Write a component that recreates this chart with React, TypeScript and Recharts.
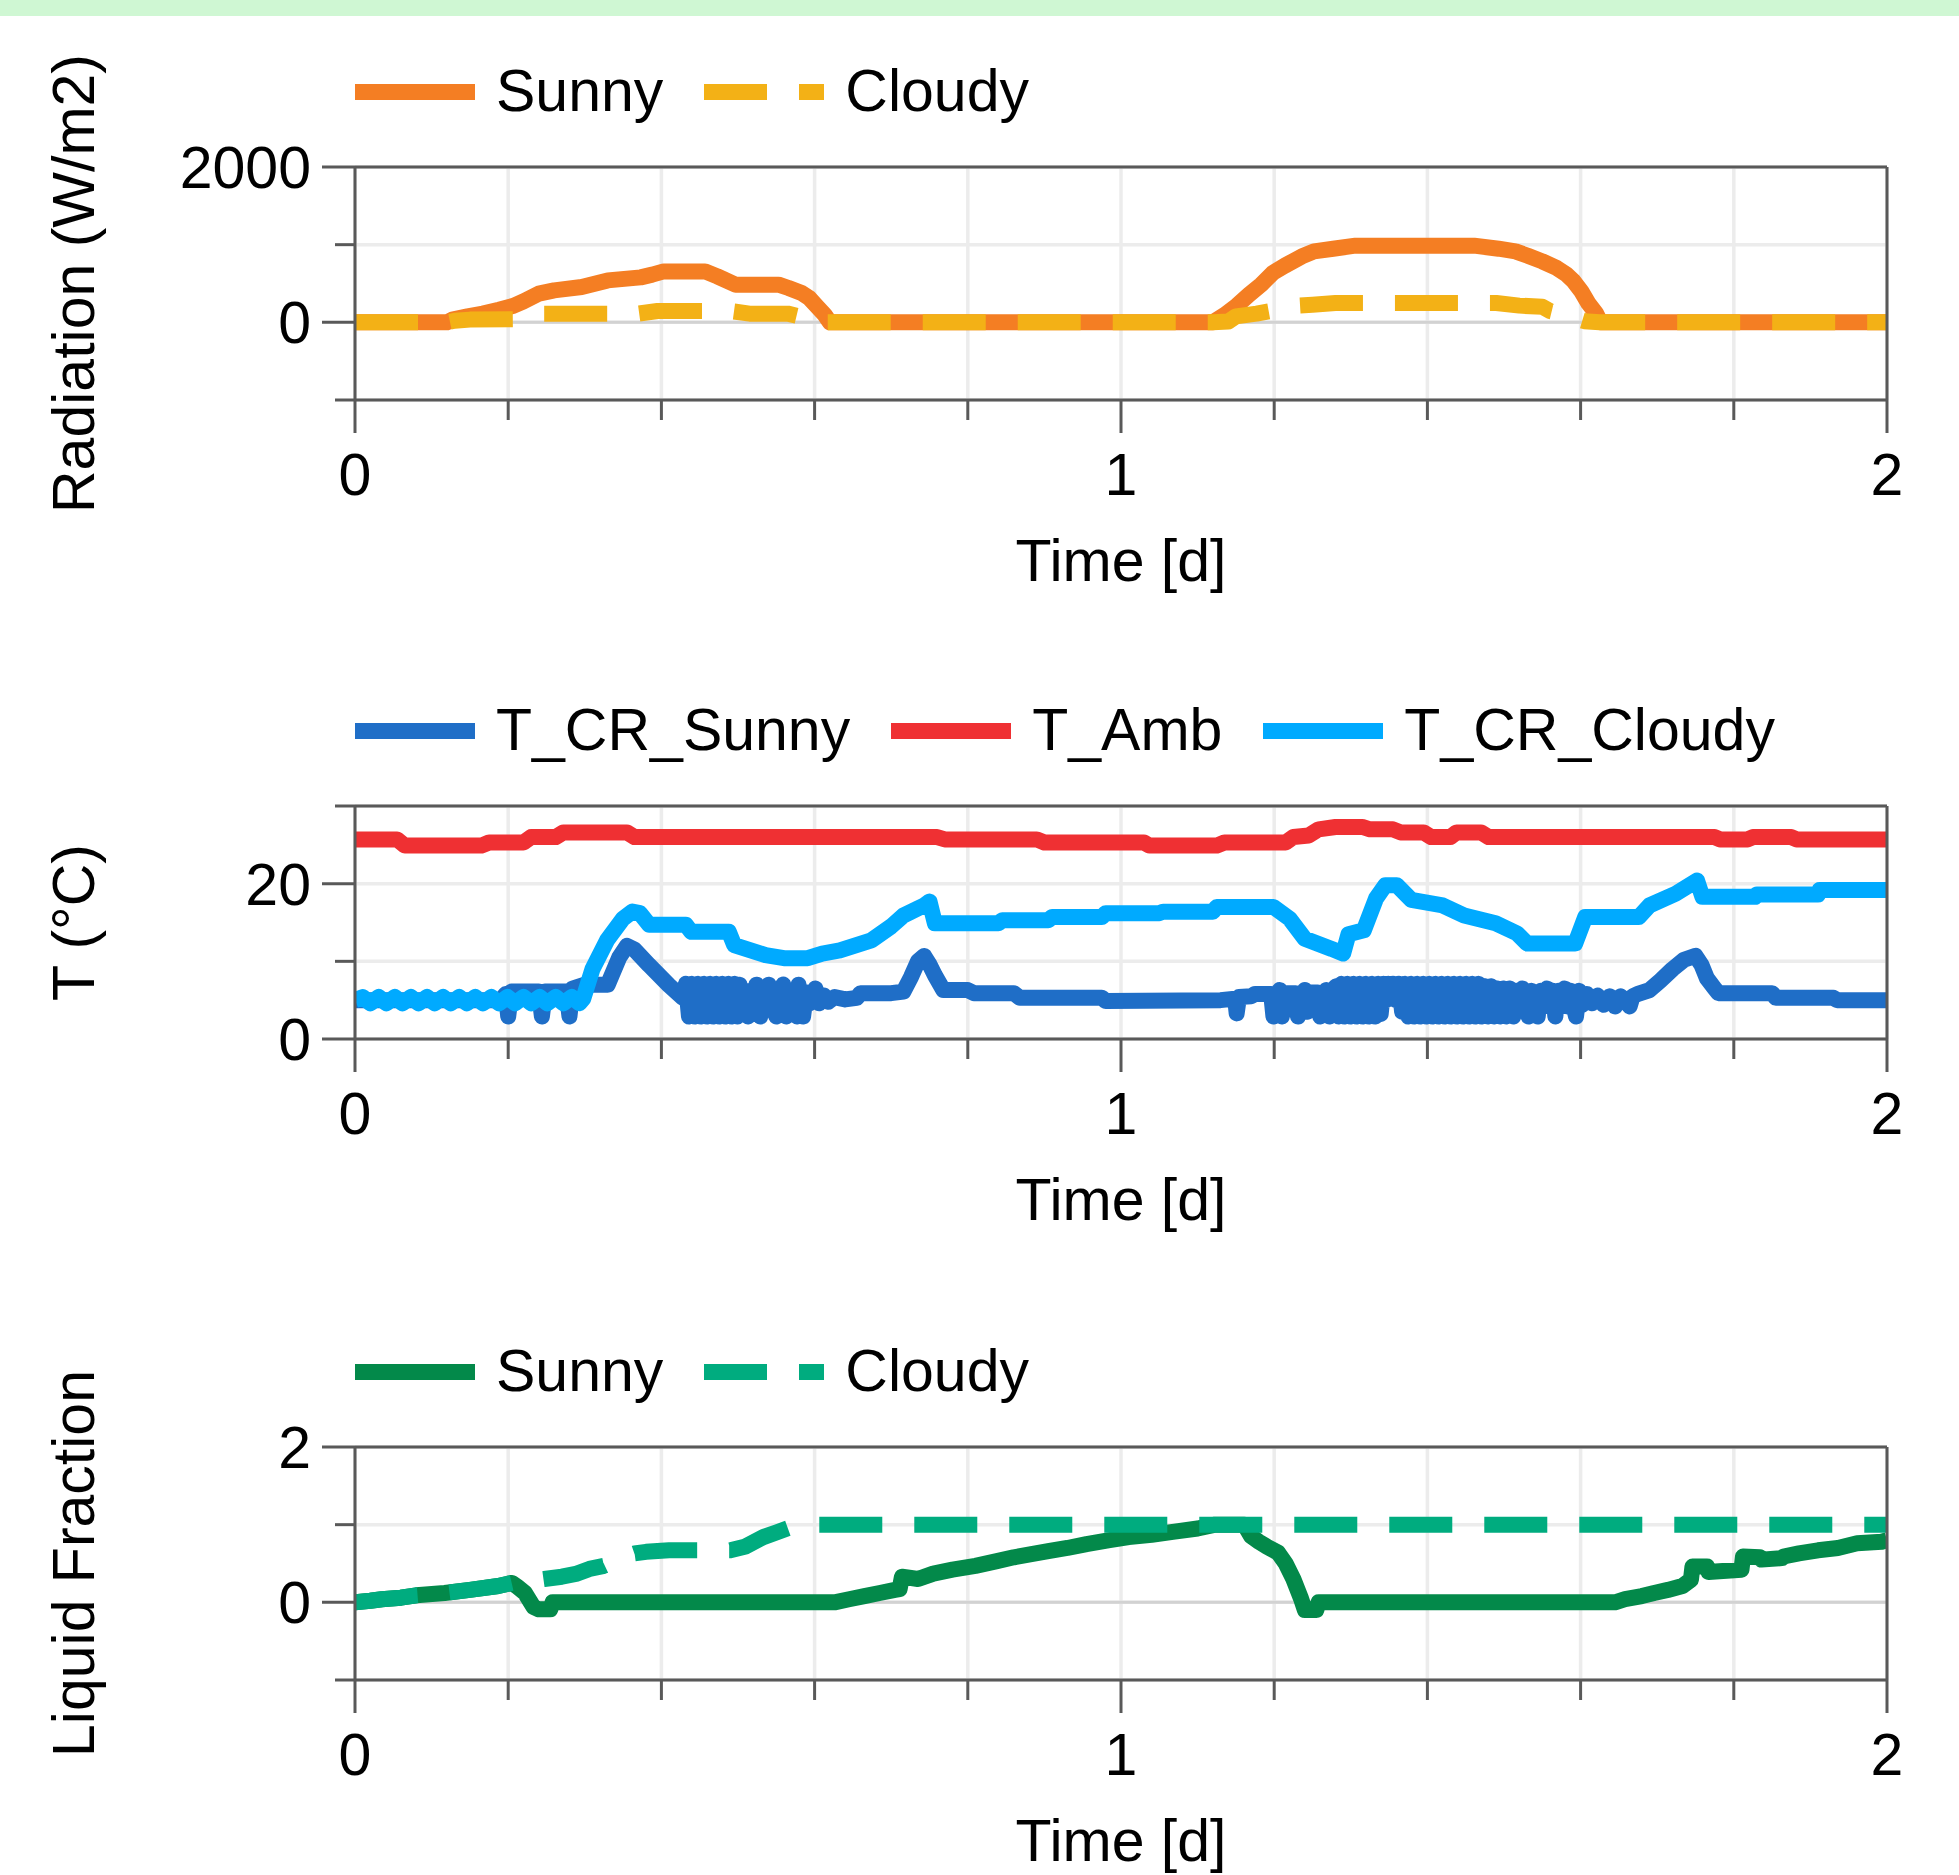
import React from 'react';
import { LineChart, Line, XAxis, YAxis, CartesianGrid, ReferenceLine } from 'recharts';

type Pt = [number, number];

// time axis [d]
const xTicks = [0, 0.2, 0.4, 0.6, 0.8, 1, 1.2, 1.4, 1.6, 1.8, 2];

// radiation (W/m2)
const radSunny: Pt[] = [
    [0, 0], [0.12, 0], [0.127, 35], [0.147, 77], [0.167, 112], [0.188, 163], [0.207, 214], [0.22, 270],
    [0.24, 369], [0.26, 412], [0.296, 455], [0.33, 540], [0.373, 579], [0.388, 614], [0.403, 656],
    [0.457, 656], [0.473, 592], [0.497, 485], [0.553, 485], [0.566, 442], [0.583, 377], [0.593, 313],
    [0.603, 206], [0.613, 99], [0.62, 0], [1.12, 0], [1.136, 99], [1.151, 214], [1.167, 356],
    [1.183, 485], [1.198, 635], [1.214, 730], [1.236, 849], [1.252, 914], [1.277, 948], [1.306, 987],
    [1.461, 987], [1.493, 948], [1.515, 914], [1.531, 858], [1.55, 785], [1.569, 699], [1.582, 614],
    [1.591, 528], [1.601, 399], [1.61, 248], [1.62, 120], [1.626, 0], [2, 0],
];
const radCloudy: Pt[] = [
    [0, 0], [0.12, 0], [0.13, 20], [0.15, 35], [0.21, 40], [0.235, 100], [0.245, 112], [0.37, 112],
    [0.395, 146], [0.49, 146], [0.515, 112], [0.565, 112], [0.58, 77], [0.598, 30], [0.61, 0],
    [1.12, 0], [1.14, 10], [1.15, 77], [1.177, 112], [1.196, 146], [1.218, 206], [1.25, 225],
    [1.28, 248], [1.49, 248], [1.52, 215], [1.55, 200], [1.56, 146], [1.575, 110], [1.59, 60],
    [1.605, 15], [1.625, 0], [2, 0],
];

// temperatures (°C)
const tCrSunny: Pt[] = [
    [0, 5.0], [0.19, 5.0], [0.197, 5.8], [0.2, 2.9], [0.204, 6.1], [0.24, 6.1], [0.244, 2.9], [0.248, 6.1],
    [0.276, 6.1], [0.28, 2.9], [0.284, 6.5], [0.3, 7.0], [0.33, 7.0], [0.345, 10.5], [0.355, 12.0],
    [0.365, 11.5], [0.384, 9.5], [0.41, 6.9], [0.428, 5.3],
    [0.432, 7.1], [0.436, 2.9], [0.44, 7.1], [0.444, 2.9], [0.448, 7.1], [0.452, 2.9], [0.456, 7.1],
    [0.46, 2.9], [0.464, 7.1], [0.468, 2.9], [0.472, 7.1], [0.476, 2.9], [0.48, 7.1], [0.484, 2.9],
    [0.488, 7.1], [0.492, 2.9], [0.496, 7.1], [0.499, 2.9],
    [0.502, 7.0], [0.506, 4.2], [0.51, 6.2], [0.513, 2.9], [0.517, 6.2], [0.521, 4.2], [0.524, 7.0],
    [0.529, 2.9], [0.533, 6.2], [0.537, 4.2], [0.54, 7.0], [0.545, 4.2], [0.55, 2.9], [0.554, 6.2],
    [0.559, 7.0], [0.563, 2.9], [0.567, 6.2], [0.571, 4.2], [0.574, 6.2], [0.577, 2.9], [0.579, 7.0],
    [0.582, 4.2], [0.585, 2.9], [0.589, 6.0], [0.594, 4.6], [0.598, 5.8], [0.601, 6.5], [0.606, 4.6],
    [0.612, 5.6], [0.618, 4.8], [0.626, 5.4], [0.64, 5.1], [0.655, 5.3], [0.66, 5.9], [0.7, 5.9],
    [0.716, 6.1], [0.726, 8.0], [0.735, 10.0], [0.743, 10.7], [0.75, 9.6], [0.757, 8.2], [0.768, 6.3],
    [0.8, 6.3], [0.808, 5.9], [0.86, 5.9], [0.868, 5.3], [0.975, 5.3], [0.98, 4.9], [1.13, 5.0],
    [1.149, 5.2], [1.151, 3.3], [1.154, 5.4], [1.17, 5.5], [1.175, 5.8], [1.196, 5.8], [1.199, 2.9],
    [1.203, 4.0], [1.207, 6.3], [1.21, 2.9], [1.214, 5.9], [1.228, 5.9], [1.231, 2.9], [1.235, 4.5],
    [1.24, 6.3], [1.243, 3.5], [1.247, 6.0], [1.257, 6.0], [1.26, 2.9], [1.265, 4.5], [1.268, 6.3],
    [1.272, 2.9], [1.276, 6.2], [1.281, 6.8],
    [1.284, 2.9], [1.288, 7.1], [1.292, 2.9], [1.296, 7.1], [1.3, 2.9], [1.304, 7.1], [1.308, 2.9],
    [1.312, 7.1], [1.316, 2.9], [1.32, 7.1], [1.324, 2.9], [1.328, 7.1], [1.332, 2.9], [1.336, 7.1],
    [1.339, 3.2], [1.343, 7.1], [1.346, 5.0], [1.349, 7.1], [1.352, 6.6], [1.355, 7.1], [1.359, 5.0],
    [1.363, 7.1], [1.367, 3.5], [1.371, 7.1],
    [1.375, 2.9], [1.379, 7.1], [1.383, 2.9], [1.387, 7.1], [1.391, 2.9], [1.395, 7.1], [1.399, 2.9],
    [1.403, 7.1], [1.407, 2.9], [1.411, 7.1], [1.415, 2.9], [1.419, 7.1], [1.423, 2.9], [1.427, 7.1],
    [1.431, 2.9], [1.435, 7.1], [1.439, 2.9], [1.443, 7.1], [1.447, 2.9], [1.451, 7.1], [1.455, 2.9],
    [1.459, 7.1], [1.463, 2.9], [1.467, 7.1], [1.471, 2.9], [1.475, 6.8], [1.479, 2.9], [1.483, 6.8],
    [1.487, 2.9], [1.491, 6.5], [1.495, 2.9], [1.499, 6.5], [1.503, 2.9], [1.507, 6.5],
    [1.512, 2.9], [1.516, 6.2], [1.52, 4.2], [1.524, 6.5], [1.528, 4.2], [1.532, 2.9], [1.536, 6.2],
    [1.54, 4.2], [1.544, 2.9], [1.548, 6.2], [1.552, 4.2], [1.556, 6.5], [1.56, 4.2], [1.564, 6.2],
    [1.567, 2.9], [1.571, 6.2], [1.575, 4.2], [1.579, 6.5], [1.583, 4.2], [1.587, 6.2], [1.591, 4.2],
    [1.594, 2.9], [1.598, 6.2], [1.602, 4.4], [1.608, 5.8], [1.615, 4.6], [1.622, 5.6], [1.63, 4.4],
    [1.638, 5.5], [1.645, 4.2], [1.652, 5.5], [1.66, 4.8], [1.664, 4.2], [1.668, 5.5], [1.675, 5.8],
    [1.69, 6.3], [1.704, 7.5], [1.72, 9.0], [1.735, 10.2], [1.75, 10.7], [1.758, 9.5], [1.765, 7.8],
    [1.775, 6.5], [1.78, 5.9], [1.85, 5.9], [1.855, 5.3], [1.93, 5.3], [1.935, 5.0], [2, 5.0],
];
const tAmb: Pt[] = [
    [0, 25.7], [0.055, 25.7], [0.065, 24.9], [0.165, 24.9], [0.175, 25.3], [0.22, 25.3], [0.23, 26.0],
    [0.262, 26.0], [0.272, 26.6], [0.355, 26.6], [0.365, 26.0], [0.76, 26.0], [0.77, 25.7], [0.89, 25.7],
    [0.9, 25.3], [1.03, 25.3], [1.037, 24.9], [1.125, 24.9], [1.135, 25.3], [1.215, 25.3], [1.225, 26.0],
    [1.245, 26.2], [1.258, 27.0], [1.28, 27.3], [1.315, 27.3], [1.325, 27.0], [1.355, 27.0],
    [1.365, 26.6], [1.395, 26.6], [1.405, 26.0], [1.43, 26.0], [1.438, 26.6], [1.47, 26.6], [1.48, 26.0],
    [1.775, 26.0], [1.782, 25.7], [1.818, 25.7], [1.825, 26.0], [1.875, 26.0], [1.882, 25.7], [2, 25.7],
];
const tCrCloudy: Pt[] = [
    [0, 5.0], [0.01, 5.4], [0.02, 4.6], [0.031, 5.4], [0.041, 4.6], [0.052, 5.4], [0.062, 4.6],
    [0.073, 5.4], [0.083, 4.6], [0.094, 5.4], [0.104, 4.6], [0.115, 5.4], [0.125, 4.6], [0.136, 5.4],
    [0.146, 4.6], [0.157, 5.4], [0.167, 4.6], [0.178, 5.4], [0.188, 4.6], [0.199, 5.4], [0.209, 4.6],
    [0.22, 5.4], [0.23, 4.6], [0.241, 5.4], [0.251, 4.6], [0.262, 5.4], [0.272, 4.6], [0.283, 5.4],
    [0.293, 4.6], [0.298, 5.2], [0.31, 9.0], [0.329, 12.7], [0.35, 15.5], [0.362, 16.4], [0.372, 16.2],
    [0.384, 14.7], [0.432, 14.7], [0.439, 13.8], [0.488, 13.8], [0.495, 12.1], [0.536, 10.8],
    [0.56, 10.4], [0.591, 10.4], [0.61, 11.0], [0.633, 11.4], [0.674, 12.7], [0.7, 14.5], [0.716, 15.9],
    [0.743, 17.2], [0.75, 17.7], [0.757, 14.9], [0.84, 14.9], [0.845, 15.3], [0.905, 15.3], [0.91, 15.7],
    [0.975, 15.7], [0.98, 16.2], [1.05, 16.2], [1.055, 16.4], [1.12, 16.4], [1.125, 17.0], [1.199, 17.0],
    [1.22, 15.5], [1.24, 12.9], [1.275, 11.6], [1.29, 11.0], [1.297, 13.5], [1.317, 14.0], [1.333, 18.1],
    [1.345, 19.8], [1.36, 19.8], [1.379, 17.9], [1.42, 17.2], [1.448, 15.9], [1.489, 14.9], [1.517, 13.6],
    [1.53, 12.3], [1.593, 12.3], [1.606, 15.7], [1.676, 15.7], [1.69, 17.2], [1.724, 18.7], [1.752, 20.4],
    [1.759, 18.3], [1.828, 18.3], [1.83, 18.6], [1.91, 18.6], [1.912, 19.2], [2, 19.2],
];

// liquid fraction (-)
const lfSunny: Pt[] = [
    [0, 0], [0.02, 0.02], [0.035, 0.04], [0.06, 0.06], [0.08, 0.09], [0.117, 0.12], [0.15, 0.16],
    [0.187, 0.21], [0.2, 0.24], [0.205, 0.25], [0.212, 0.2], [0.222, 0.12], [0.233, -0.06], [0.24, -0.09],
    [0.255, -0.09], [0.258, 0], [0.626, 0], [0.645, 0.04], [0.665, 0.08], [0.685, 0.12], [0.705, 0.16],
    [0.711, 0.17], [0.714, 0.33], [0.735, 0.3], [0.755, 0.37], [0.78, 0.42], [0.81, 0.47], [0.838, 0.53],
    [0.86, 0.58], [0.883, 0.62], [0.905, 0.66], [0.93, 0.7], [0.955, 0.75], [0.985, 0.8], [1.01, 0.84],
    [1.04, 0.87], [1.07, 0.91], [1.1, 0.95], [1.123, 1.0], [1.161, 1.0], [1.17, 0.85], [1.18, 0.78],
    [1.19, 0.72], [1.205, 0.64], [1.215, 0.5], [1.225, 0.3], [1.235, 0.05], [1.24, -0.1], [1.255, -0.1],
    [1.258, 0], [1.645, 0], [1.658, 0.04], [1.68, 0.08], [1.696, 0.12], [1.714, 0.16], [1.733, 0.21],
    [1.744, 0.29], [1.746, 0.46], [1.765, 0.46], [1.767, 0.39], [1.781, 0.4], [1.81, 0.42], [1.812, 0.59],
    [1.834, 0.58], [1.836, 0.55], [1.863, 0.57], [1.865, 0.59], [1.885, 0.63], [1.91, 0.67],
    [1.936, 0.7], [1.961, 0.76], [1.993, 0.78], [2, 0.8],
];
const lfCloudy: Pt[] = [
    [0, 0], [0.02, 0.02], [0.035, 0.04], [0.06, 0.06], [0.08, 0.09], [0.117, 0.12], [0.15, 0.16],
    [0.187, 0.21], [0.205, 0.25], [0.225, 0.27], [0.247, 0.3], [0.27, 0.33], [0.29, 0.37], [0.306, 0.43],
    [0.325, 0.47], [0.34, 0.54], [0.35, 0.58], [0.365, 0.63], [0.38, 0.65], [0.41, 0.67], [0.49, 0.67],
    [0.51, 0.72], [0.533, 0.84], [0.55, 0.9], [0.567, 0.96], [0.58, 1.0], [2, 1.0],
];

const AXIS = '#595959';
const GRID = '#ececec';
const ZERO = '#d2d2d2';
const FS = 59;
const LW = 16;
const DASH = '63 32';

const toRows = (pts: Pt[]) => pts.map(([t, v]) => ({ t, v }));

interface Series {
    name: string;
    color: string;
    pts: Pt[];
    dashed?: boolean;
}

const XTick = (props: any) => {
    const { x, y, payload } = props;
    const v = payload.value;
    const major = Math.abs(v - Math.round(v)) < 1e-6;
    return (
        <g>
            <line x1={x} x2={x} y1={y} y2={y + (major ? 33 : 20)} stroke={AXIS} strokeWidth={3} />
            {major && (
                <text x={x} y={y + 95} textAnchor="middle" fontSize={FS} fill="#000">
                    {Math.round(v)}
                </text>
            )}
        </g>
    );
};

const makeYTick = (labeled: number[]) => (props: any) => {
    const { x, y, payload } = props;
    const on = labeled.includes(payload.value);
    return (
        <g>
            <line x1={x - (on ? 33 : 20)} x2={x} y1={y} y2={y} stroke={AXIS} strokeWidth={3} />
            {on && (
                <text x={x - 44} y={y + 21} textAnchor="end" fontSize={FS} fill="#000">
                    {payload.value}
                </text>
            )}
        </g>
    );
};

interface PanelProps {
    top: number;
    yDomain: [number, number];
    yTicks: number[];
    yLabeled: number[];
    yTitle: string;
    zeroLine: boolean;
    series: Series[];
}

const Panel: React.FC<PanelProps> = ({ top, yDomain, yTicks, yLabeled, yTitle, zeroLine, series }) => (
    <div style={{ position: 'absolute', left: 0, top, width: 1959, height: 620 }}>
        <LineChart width={1959} height={620} margin={{ top: 167, right: 72, bottom: 0, left: 0 }}>
            <CartesianGrid stroke={GRID} strokeWidth={3.5} />
            <XAxis
                dataKey="t"
                type="number"
                domain={[0, 2]}
                ticks={xTicks}
                interval={0}
                allowDataOverflow
                height={220}
                tickSize={0}
                tickMargin={0}
                tickLine={false}
                axisLine={{ stroke: AXIS, strokeWidth: 3 }}
                tick={(p: any) => <XTick {...p} />}
                label={{
                    content: (p: any) => {
                        const vb = p.viewBox;
                        return (
                            <text x={vb.x + vb.width / 2} y={vb.y + 181} textAnchor="middle" fontSize={FS} fill="#000">
                                Time [d]
                            </text>
                        );
                    },
                }}
            />
            <YAxis
                type="number"
                domain={yDomain}
                ticks={yTicks}
                interval={0}
                allowDataOverflow
                width={355}
                tickSize={0}
                tickMargin={0}
                tickLine={false}
                axisLine={{ stroke: AXIS, strokeWidth: 3 }}
                tick={makeYTick(yLabeled)}
                label={{
                    content: (p: any) => {
                        const vb = p.viewBox;
                        const cx = vb.x + 94;
                        const cy = vb.y + vb.height / 2;
                        return (
                            <text x={cx} y={cy} transform={`rotate(-90 ${cx} ${cy})`} textAnchor="middle" fontSize={FS} fill="#000">
                                {yTitle}
                            </text>
                        );
                    },
                }}
            />
            {zeroLine && <ReferenceLine y={0} stroke={ZERO} strokeWidth={3} />}
            {series.map((s) => (
                <Line
                    key={s.name}
                    data={toRows(s.pts)}
                    dataKey="v"
                    name={s.name}
                    type="linear"
                    stroke={s.color}
                    strokeWidth={LW}
                    strokeDasharray={s.dashed ? DASH : undefined}
                    strokeLinejoin="round"
                    dot={false}
                    activeDot={false}
                    isAnimationActive={false}
                />
            ))}
            <ReferenceLine y={yDomain[1]} stroke={AXIS} strokeWidth={3} />
            <ReferenceLine x={2} stroke={AXIS} strokeWidth={3} />
        </LineChart>
        <div
            style={{
                position: 'absolute',
                left: 355,
                top: 62,
                height: FS,
                lineHeight: `${FS}px`,
                display: 'flex',
                alignItems: 'center',
                fontSize: FS,
                whiteSpace: 'nowrap',
            }}
        >
            {series.map((s) => (
                <div key={s.name} style={{ display: 'flex', alignItems: 'center', marginRight: 41 }}>
                    <svg width={120} height={16} style={{ marginRight: 21 }}>
                        <line x1={0} x2={120} y1={8} y2={8} stroke={s.color} strokeWidth={LW} strokeDasharray={s.dashed ? DASH : undefined} />
                    </svg>
                    <span>{s.name}</span>
                </div>
            ))}
        </div>
    </div>
);

export default function App() {
    return (
        <div
            style={{
                position: 'absolute',
                left: 0,
                top: 0,
                width: 1959,
                height: 1875,
                background: '#fff',
                fontFamily: '"Liberation Sans", Arial, sans-serif',
                color: '#000',
                overflow: 'hidden',
            }}
        >
            <div style={{ position: 'absolute', left: 0, top: 0, width: 1959, height: 16, background: '#cff7d3' }} />
            <Panel
                top={0}
                yDomain={[-1000, 2000]}
                yTicks={[-1000, 0, 1000, 2000]}
                yLabeled={[0, 2000]}
                yTitle="Radiation (W/m2)"
                zeroLine
                series={[
                    { name: 'Sunny', color: '#f47e23', pts: radSunny },
                    { name: 'Cloudy', color: '#f3b116', pts: radCloudy, dashed: true },
                ]}
            />
            <Panel
                top={639}
                yDomain={[0, 30]}
                yTicks={[0, 10, 20, 30]}
                yLabeled={[0, 20]}
                yTitle="T (°C)"
                zeroLine={false}
                series={[
                    { name: 'T_CR_Sunny', color: '#1f6ec7', pts: tCrSunny },
                    { name: 'T_Amb', color: '#ef3033', pts: tAmb },
                    { name: 'T_CR_Cloudy', color: '#00aaff', pts: tCrCloudy },
                ]}
            />
            <Panel
                top={1280}
                yDomain={[-1, 2]}
                yTicks={[-1, 0, 1, 2]}
                yLabeled={[0, 2]}
                yTitle="Liquid Fraction"
                zeroLine
                series={[
                    { name: 'Sunny', color: '#03894a', pts: lfSunny },
                    { name: 'Cloudy', color: '#00ac7f', pts: lfCloudy, dashed: true },
                ]}
            />
        </div>
    );
}
